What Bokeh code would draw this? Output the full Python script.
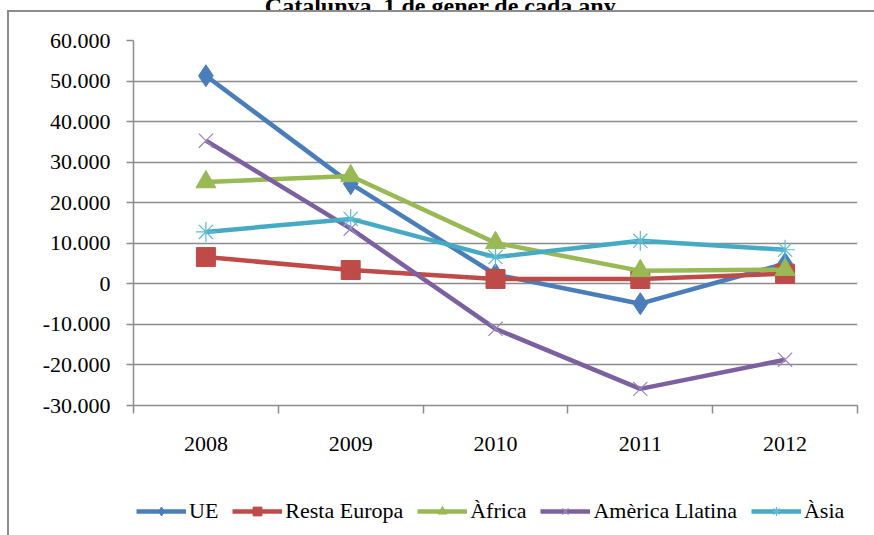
from bokeh.plotting import figure
from bokeh.layouts import column
from bokeh.models import (FixedTicker, Legend, LegendItem, ColumnDataSource,
                          InlineStyleSheet, Label)
from bokeh.embed import file_html
from bokeh.resources import INLINE

# ---------------- data ----------------
years = ["2008", "2009", "2010", "2011", "2012"]
ue = [51300, 24700, 2300, -4900, 5000]
resta_europa = [6600, 3400, 1200, 1200, 2500]
africa = [25100, 26600, 10100, 3200, 3500]
america_llatina = [35300, 13600, -11100, -25900, -18700]
asia = [12800, 16000, 6600, 10600, 8400]
series_names = ["UE", "Resta Europa", "Àfrica", "Amèrica Llatina", "Àsia"]
y_ticks = [-30000, -20000, -10000, 0, 10000, 20000, 30000, 40000, 50000, 60000]
y_tick_labels = ["-30.000", "-20.000", "-10.000", "0", "10.000", "20.000",
                 "30.000", "40.000", "50.000", "60.000"]
title_text = "Catalunya, 1 de gener de cada any"

FONT = "Liberation Serif"
GRAY = "#8C8C8C"
W = 872
TITLE_H = 30
TITLE_UP = 20  # the original's title is cut by the top edge


def strip(height):
    f = figure(width=W, height=height, output_backend="svg", toolbar_location=None,
               x_range=(0, 1), y_range=(0, height), x_axis_location=None,
               y_axis_location=None, min_border=0)
    f.outline_line_color = None
    f.xgrid.grid_line_color = None
    f.ygrid.grid_line_color = None
    f.border_fill_color = "white"
    f.background_fill_color = "white"
    return f


# ---- title strip ----
tf = strip(TITLE_H)
tf.add_layout(Label(x=0.424, y=5, text=title_text, text_font=FONT,
                    text_font_size="24px", text_font_style="bold",
                    text_color="black", text_align="center",
                    text_baseline="alphabetic"))
tf.stylesheets = [InlineStyleSheet(css=f":host {{ margin-top: -{TITLE_UP}px; }}")]

# ---- main chart ----
xs = [i + 0.5 for i in range(len(years))]

p = figure(width=W, height=460, output_backend="svg", toolbar_location=None,
           x_range=(0, len(years)), y_range=(y_ticks[0], y_ticks[-1]),
           min_border_left=133, min_border_right=15, min_border_top=30,
           min_border_bottom=65)
p.outline_line_color = None
p.background_fill_color = "white"
p.border_fill_color = "white"

p.yaxis.ticker = FixedTicker(ticks=y_ticks)
p.yaxis.major_label_overrides = {t: l for t, l in zip(y_ticks, y_tick_labels)}
p.yaxis.major_label_text_font = FONT
p.yaxis.major_label_text_font_size = "22px"
p.yaxis.major_label_text_color = "black"
p.yaxis.axis_line_color = GRAY
p.yaxis.axis_line_width = 1.5
p.yaxis.major_tick_line_color = GRAY
p.yaxis.major_tick_line_width = 1.5
p.yaxis.major_tick_out = 7
p.yaxis.major_tick_in = 0
p.yaxis.minor_tick_line_color = None
p.yaxis.major_label_standoff = 16

p.xaxis.ticker = FixedTicker(ticks=xs, minor_ticks=list(range(len(years) + 1)))
p.xaxis.major_label_overrides = {x: y for x, y in zip(xs, years)}
p.xaxis.major_label_text_font = FONT
p.xaxis.major_label_text_font_size = "22px"
p.xaxis.major_label_text_color = "black"
p.xaxis.axis_line_color = GRAY
p.xaxis.axis_line_width = 1.5
p.xaxis.major_tick_line_color = None
p.xaxis.major_tick_out = 0
p.xaxis.major_tick_in = 0
p.xaxis.minor_tick_line_color = GRAY
p.xaxis.minor_tick_line_width = 1.5
p.xaxis.minor_tick_out = 8
p.xaxis.minor_tick_in = 0
p.xaxis.major_label_standoff = 23

p.xgrid.grid_line_color = None
p.ygrid.grid_line_color = GRAY
p.ygrid.grid_line_width = 1.5

colors = ["#4A7EBB", "#BE4B48", "#98B954", "#7D60A0", "#46AAC5"]
marker_colors = ["#4A7EBB", "#BE4B48", "#98B954", "#9D85BE", "#5FBBD4"]
markers = ["diamond", "square", "triangle", "x", "asterisk"]
sizes = [22, 19, 20, 20, 20]
all_series = [ue, resta_europa, africa, america_llatina, asia]

# ---- legend strip ----
lf = strip(63)

NAN = float("nan")
items = []
for name, vals, c, mc, m, s in zip(series_names, all_series, colors, marker_colors,
                                   markers, sizes):
    src = ColumnDataSource(dict(x=xs, y=vals))
    p.line("x", "y", source=src, line_color=c, line_width=4.5)
    if m in ("x", "asterisk"):
        p.scatter("x", "y", source=src, marker=m, size=s, line_color=mc,
                  line_width=1.2)
    else:
        p.scatter("x", "y", source=src, marker=m, size=s, fill_color=c,
                  line_color=c, line_width=1)
    # stand-ins with no drawable point, so that the legend can show each style
    blank = ColumnDataSource(dict(x=[NAN], y=[NAN]))
    l1 = lf.line("x", "y", source=blank, line_color=c, line_width=4.5)
    if m in ("x", "asterisk"):
        l2 = lf.scatter("x", "y", source=blank, marker=m, size=s, line_color=mc,
                        line_width=1.2)
    else:
        l2 = lf.scatter("x", "y", source=blank, marker=m, size=s, fill_color=c,
                        line_color=c, line_width=1)
    items.append(LegendItem(label=name, renderers=[l1, l2]))

legend = Legend(items=items, orientation="horizontal", location=(3, 9),
                label_text_font=FONT, label_text_font_size="22px",
                label_text_color="black", glyph_width=50, glyph_height=22,
                label_standoff=3, spacing=14, padding=5, margin=0,
                border_line_color=None, background_fill_alpha=0)
lf.add_layout(legend, "center")

layout = column(tf, p, lf, spacing=0)
layout.stylesheets = [InlineStyleSheet(css="""
:host { position: relative; }
:host::after { content: ""; position: absolute; left: 7px; top: 10px;
  width: 900px; height: 700px; border: 2px solid #8C8C8C; pointer-events: none;
  box-sizing: border-box; }
""")]

open("out.html", "w").write(file_html(layout, INLINE))
